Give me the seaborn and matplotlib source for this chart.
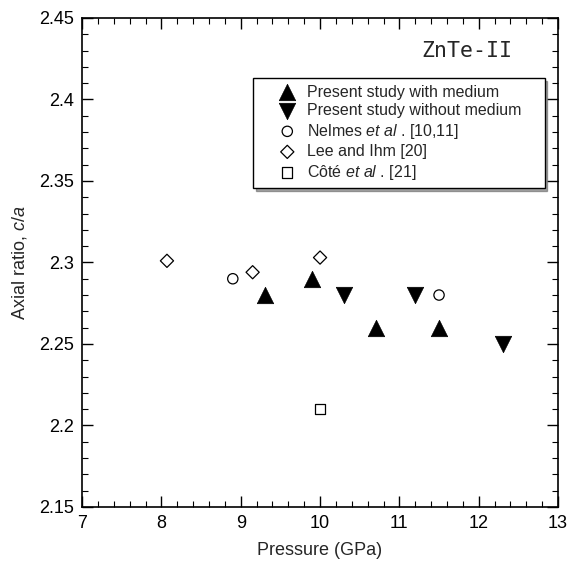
import numpy as np
import pandas as pd
import matplotlib
matplotlib.use("Agg")
import matplotlib.pyplot as plt
import seaborn as sns
from matplotlib.ticker import MultipleLocator

sns.set_style("ticks")
plt.rcParams['font.family'] = ['Liberation Sans', 'DejaVu Sans']
plt.rcParams['mathtext.fontset'] = 'custom'
plt.rcParams['mathtext.rm'] = 'Liberation Sans'
plt.rcParams['mathtext.it'] = 'Liberation Sans:italic'

# data
with_p = [9.3, 9.9, 10.7, 11.5]
with_r = [2.28, 2.29, 2.26, 2.26]
without_p = [10.3, 11.2, 12.3]
without_r = [2.28, 2.28, 2.25]
nelmes_p = [8.9, 11.5]
nelmes_r = [2.29, 2.28]
lee_p = [8.07, 9.15, 10.0]
lee_r = [2.301, 2.294, 2.303]
cote_p = [10.0]
cote_r = [2.21]

fig = plt.figure(figsize=(5.70, 5.62), dpi=100)
ax = fig.add_axes([0.144, 0.098, 0.835, 0.870])

sns.scatterplot(x=with_p, y=with_r, marker="^", s=140, color="black",
                edgecolor="black", linewidth=0.5, ax=ax,
                label="Present study with medium")
sns.scatterplot(x=without_p, y=without_r, marker="v", s=140, color="black",
                edgecolor="black", linewidth=0.5, ax=ax,
                label="Present study without medium")
sns.scatterplot(x=nelmes_p, y=nelmes_r, marker="o", s=55, facecolor="none",
                edgecolor="black", linewidth=0.9, ax=ax,
                label="Nelmes $\\mathit{et\\ al}$ . [10,11]")
sns.scatterplot(x=lee_p, y=lee_r, marker="D", s=45, facecolor="none",
                edgecolor="black", linewidth=0.9, ax=ax,
                label="Lee and Ihm [20]")
sns.scatterplot(x=cote_p, y=cote_r, marker="s", s=55, facecolor="none",
                edgecolor="black", linewidth=0.9, ax=ax,
                label="Côté $\\mathit{et\\ al}$ . [21]")

ax.set_xlim(7, 13)
ax.set_ylim(2.15, 2.45)
ax.xaxis.set_major_locator(MultipleLocator(1))
ax.xaxis.set_minor_locator(MultipleLocator(0.2))
ax.yaxis.set_major_locator(MultipleLocator(0.05))
ax.yaxis.set_minor_locator(MultipleLocator(0.01))
ax.yaxis.set_major_formatter(plt.FuncFormatter(lambda v, p: ("%.2f" % v).rstrip("0").rstrip(".")))
ax.tick_params(which="both", direction="in", top=True, right=True,
               labelsize=13, color="black", labelcolor="black")
ax.tick_params(which="major", length=8, width=1, pad=6)
ax.tick_params(which="minor", length=4, width=0.8)
for sp in ax.spines.values():
    sp.set_visible(True)
    sp.set_color("black")
    sp.set_linewidth(1.2)

ax.set_xlabel("Pressure (GPa)", fontsize=13, labelpad=7)
ax.set_ylabel("Axial ratio, $\\mathit{c/a}$", fontsize=13, labelpad=7)

ax.text(0.809, 0.933, "ZnTe-II", transform=ax.transAxes, fontsize=15.5,
        family="DejaVu Sans Mono", ha="center", va="center")

leg = ax.legend(loc="upper left", bbox_to_anchor=(0.359, 0.5, 0.613, 0.377),
                mode="expand", frameon=True, fancybox=False, shadow=True,
                fontsize=11.5, handletextpad=-0.5, borderpad=0.4,
                labelspacing=0.22, handlelength=3.5, borderaxespad=0)
leg.get_frame().set_edgecolor("black")
leg.get_frame().set_linewidth(1.0)
leg.get_frame().set_alpha(1)

fig.savefig("out.png", dpi=100)
